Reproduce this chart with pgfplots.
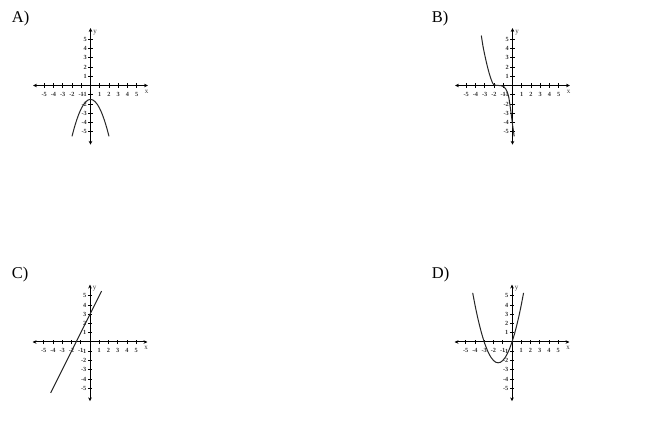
\documentclass[border=0pt]{standalone}
\usepackage{fontspec}
\setmainfont{Liberation Serif}
\usepackage{pgfplots}
\pgfplotsset{compat=1.18}
\usetikzlibrary{arrows.meta}

\pgfplotsset{
  panel/.style={
    anchor=origin,
    x=9.25bp, y=9.25bp,
    axis lines=middle,
    xmin=-6.2, xmax=6.2, ymin=-6.4, ymax=6.2,
    axis line style={{Stealth[length=3.8bp,width=3.6bp]}-{Stealth[length=3.8bp,width=3.6bp]}, line width=1bp, black},
    tick align=center,
    major tick length=4.5bp,
    tick style={line width=0.9bp, black},
    xtick={-5,-4,-3,-2,-1,1,2,3,4,5},
    xticklabels={-5,-4,-3,-2,-1,1,2,3,4,5},
    ytick={-5,-4,-3,-2,-1,1,2,3,4,5},
    yticklabels={-5,-4,-3,-2,-1,1,2,3,4,5},
    tick label style={font=\fontsize{6.3}{7}\selectfont\bfseries, inner sep=0pt, text=black!80},
    xticklabel style={anchor=north, yshift=-4.3bp},
    yticklabel style={anchor=east, xshift=-1.2bp},
    clip=false,
  },
  curve/.style={line width=1bp, black!85, no marks},
}

\newcommand{\axisnames}{%
  \node[anchor=west, inner sep=0pt, text=black!80, font=\fontsize{7}{7}\selectfont] at (axis cs:0.3,5.75) {y};
  \node[anchor=west, inner sep=0pt, text=black!80, font=\fontsize{7}{7}\selectfont] at (axis cs:5.85,-0.65) {x};
}

\begin{document}
\begin{tikzpicture}
  \path[use as bounding box] (0,0) rectangle (653bp,438bp);

  \node[anchor=base west, inner sep=0pt, font=\fontsize{16.5}{18}\selectfont] at (11.7bp,415.7bp) {A)};
  \node[anchor=base west, inner sep=0pt, font=\fontsize{16.5}{18}\selectfont] at (431.7bp,415.7bp) {B)};
  \node[anchor=base west, inner sep=0pt, font=\fontsize{16.5}{18}\selectfont] at (11.7bp,159.7bp) {C)};
  \node[anchor=base west, inner sep=0pt, font=\fontsize{16.5}{18}\selectfont] at (431.7bp,159.7bp) {D)};

  % A
  \begin{axis}[panel, at={(90.5bp,352.5bp)}]
    \addplot[curve, smooth] coordinates {
      (-2,-5.5) (-1.75,-4.56) (-1.5,-3.75) (-1.25,-3.06) (-1,-2.5)
      (-0.75,-2.06) (-0.5,-1.75) (-0.25,-1.56) (0,-1.5)
      (0.25,-1.56) (0.5,-1.75) (0.75,-2.06) (1,-2.5) (1.25,-3.06)
      (1.5,-3.75) (1.75,-4.56) (2,-5.5)
    };
    \axisnames
  \end{axis}

  % B
  \begin{axis}[panel, at={(512.5bp,352.5bp)}]
    \addplot[curve, smooth, tension=0.5] coordinates {
      (-3.37,5.4) (-3.2,4.3) (-3.0,3.3) (-2.75,2.2) (-2.5,1.25) (-2.25,0.5)
      (-2.05,0.12) (-1.8,0.02) (-1.5,0) (-1.2,-0.03) (-0.95,-0.12)
      (-0.75,-0.35) (-0.55,-0.75) (-0.4,-1.3) (-0.25,-2.3)
      (-0.1,-3.4) (0,-4.2) (0.1,-4.9) (0.18,-5.5)
    };
    \axisnames
  \end{axis}

  % C
  \begin{axis}[panel, at={(90bp,96bp)}]
    \addplot[curve] coordinates {(-4.25,-5.5) (1.25,5.5)};
    \axisnames
  \end{axis}

  % D
  \begin{axis}[panel, at={(512bp,96bp)}]
    \addplot[curve, smooth] coordinates {
      (-4.25,5.31) (-4,4) (-3.75,2.81) (-3.5,1.75) (-3.25,0.81) (-3,0)
      (-2.75,-0.69) (-2.5,-1.25) (-2.25,-1.69) (-2,-2) (-1.75,-2.19)
      (-1.5,-2.25) (-1.25,-2.19) (-1,-2) (-0.75,-1.69) (-0.5,-1.25)
      (-0.25,-0.69) (0,0) (0.25,0.81) (0.5,1.75) (0.75,2.81) (1,4)
      (1.25,5.31)
    };
    \axisnames
  \end{axis}
\end{tikzpicture}
\end{document}
